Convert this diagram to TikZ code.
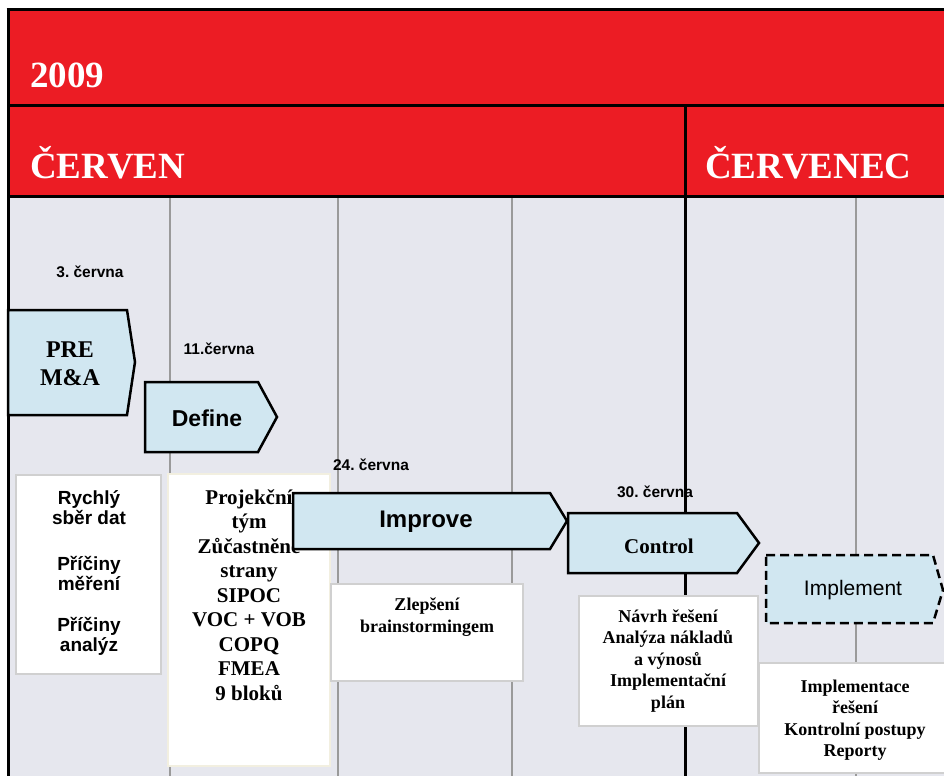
\documentclass[tikz,border=0pt]{standalone}
\usepackage{fontspec}
\setmainfont{Liberation Serif}
\newfontfamily\sansn{Liberation Sans}
\definecolor{hdrred}{HTML}{EC1C24}
\definecolor{gridbg}{HTML}{E6E7EE}
\definecolor{arrowfill}{HTML}{D1E7F1}
\definecolor{gridline}{HTML}{9A9A9A}
\definecolor{boxedge}{HTML}{D0D0D0}
\definecolor{creamedge}{HTML}{F2EFE0}
\frenchspacing
\begin{document}
\begin{tikzpicture}[x=1pt,y=-1pt,
  blk/.style={line width=3pt,black},
  gline/.style={line width=1.1pt,gridline},
  hdr/.style={text=white,font=\fontsize{37}{40}\selectfont\bfseries,anchor=base west,inner sep=0pt},
  datelbl/.style={font=\sansn\fontsize{15.5}{17}\selectfont\bfseries,inner sep=0pt},
  wbox/.style={fill=white,draw=boxedge,line width=2.5pt,inner sep=0pt},
  chev/.style={fill=arrowfill,draw=black,line width=2.5pt,line join=miter},
  sbox/.style={font=\sansn\fontsize{19}{20}\selectfont\bfseries,align=center,inner sep=0pt},
  rbox/.style={font=\fontsize{18}{21.5}\selectfont\bfseries,align=center,inner sep=0pt},
  lbl/.style={inner sep=0pt,align=center}
]
\useasboundingbox (0,0) rectangle (944,776);
\fill[white] (0,0) rectangle (944,776);
\fill[gridbg] (8,196) rectangle (944,776);
\fill[hdrred] (8,10) rectangle (944,196);
% grid lines
\foreach \gx in {170,338,512,856} \draw[gline] (\gx,198) -- (\gx,776);
% header text
\node[hdr] (year) at (30,87) {2009};
\node[hdr] (jun) at (30,178) {ČERVEN};
\node[hdr] (jul) at (705,178) {ČERVENEC};
% dates
\node[datelbl] (d1) at (90,272) {3. června};
\node[datelbl] (d2) at (219,349) {11.června};
\node[datelbl] (d3) at (371,465) {24. června};
\node[datelbl] (d4) at (655,492) {30. června};
% black frame lines
\draw[blk] (6.5,10) -- (944,10);
\draw[blk] (8,8.5) -- (8,776);
\draw[blk] (8,105) -- (944,105);
\draw[blk] (8,196) -- (944,196);
\draw[blk] (685,105) -- (685,776);
% white boxes
\node[wbox,minimum width=145pt,minimum height=199pt] (b1) at (88.5,574.5) {};
\node[wbox,draw=creamedge,line width=1.5pt,minimum width=162pt,minimum height=292pt] (b2) at (249,620) {};
\node[wbox,minimum width=192pt,minimum height=97pt] (b3) at (427,632.5) {};
\node[wbox,minimum width=179pt,minimum height=130pt] (b4) at (668.5,661) {};
\node[wbox,minimum width=195pt,minimum height=110pt] (b5) at (856.5,718) {};
% box texts
\node[sbox] (t1a) at (89,508) {Rychlý\\sběr dat};
\node[sbox] (t1b) at (89,573) {Příčiny\\měření};
\node[sbox] (t1c) at (89,636) {Příčiny\\analýz};
\node[lbl,font=\fontsize{21}{24.5}\selectfont\bfseries] (t2) at (249,595)
  {Projekční\\tým\\Zůčastněné\\strany\\SIPOC\\VOC + VOB\\COPQ\\FMEA\\9 bloků};
\node[rbox] (t3) at (427,617) {Zlepšení\\brainstormingem};
\node[rbox] (t4) at (668,661) {Návrh řešení\\Analýza nákladů\\a výnosů\\Implementační\\plán};
\node[rbox] (t5) at (855,720) {Implementace\\řešení\\Kontrolní postupy\\Reporty};
% chevrons
\draw[chev] (8,310) -- (127,310) -- (135,362) -- (127,415) -- (8,415) -- cycle;
\node[lbl,font=\fontsize{24}{28}\selectfont\bfseries] (pre) at (70,364) {PRE\\M\&A};
\draw[chev] (145,382) -- (258,382) -- (277,417) -- (258,452) -- (145,452) -- cycle;
\node[lbl,font=\sansn\fontsize{23}{26}\selectfont\bfseries] (def) at (207,418) {Define};
\draw[chev] (293,493) -- (550,493) -- (567,521) -- (550,549) -- (293,549) -- cycle;
\node[lbl,font=\sansn\fontsize{24}{27}\selectfont\bfseries] (imp) at (426,522) {Improve};
\draw[chev] (568,513) -- (737,513) -- (759,543) -- (737,573) -- (568,573) -- cycle;
\node[lbl,font=\fontsize{21}{24}\selectfont\bfseries] (ctl) at (659,546) {Control};
\draw[chev,dash pattern=on 9pt off 5pt] (766,555) -- (933,555) -- (943,590) -- (933,623) -- (766,623) -- cycle;
\node[lbl,font=\sansn\fontsize{21}{24}\selectfont] (impl) at (853,590) {Implement};
\end{tikzpicture}
\end{document}
